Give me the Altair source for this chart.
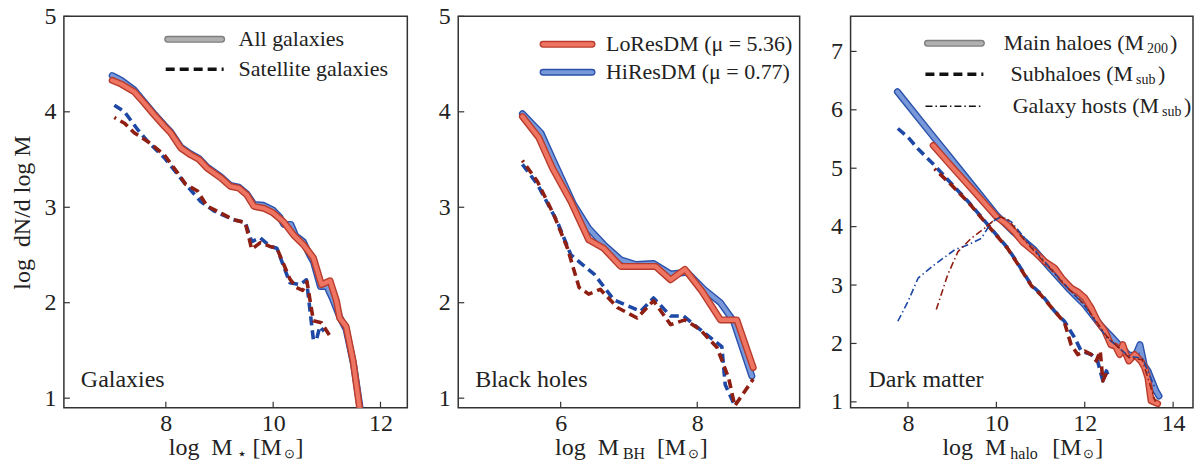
import altair as alt
import pandas as pd

FONT = "Liberation Serif"
RED_FILL, RED_EDGE = "#EF7563", "#B83B2C"
BLUE_FILL, BLUE_EDGE = "#7898DA", "#2A52AC"
RED_DASH, BLUE_DASH = "#8E1F12", "#1D48A5"
INK = "#222222"

# ---------------- Panel 1: galaxies ----------------
gal_lo_all_x = [7.0, 7.17, 7.41, 7.6, 7.78, 7.97, 8.09, 8.28, 8.46, 8.62, 8.77, 9.02, 9.2, 9.36, 9.51,
                9.64, 9.82, 10.0, 10.19, 10.38, 10.56, 10.75, 10.9, 11.06, 11.18, 11.24, 11.36, 11.49, 11.61, 11.7]
gal_lo_all_y = [4.33, 4.29, 4.21, 4.09, 3.97, 3.85, 3.78, 3.62, 3.55, 3.50, 3.41, 3.31, 3.22, 3.20, 3.13,
                3.01, 2.99, 2.94, 2.85, 2.71, 2.61, 2.47, 2.19, 2.23, 2.02, 1.84, 1.75, 1.39, 0.9, 0.5]
gal_hi_all_x = [7.0, 7.17, 7.41, 7.6, 7.78, 7.97, 8.09, 8.28, 8.46, 8.62, 8.77, 9.02, 9.2, 9.36, 9.51,
                9.64, 9.82, 10.0, 10.12, 10.2, 10.33, 10.42, 10.56, 10.68, 10.75, 10.88, 11.0, 11.1, 11.24,
                11.36, 11.5, 11.62, 11.72]
gal_hi_all_y = [4.38, 4.33, 4.23, 4.10, 3.98, 3.86, 3.79, 3.63, 3.56, 3.51, 3.42, 3.32, 3.23, 3.21, 3.14,
                3.03, 3.02, 2.97, 2.90, 2.82, 2.82, 2.70, 2.64, 2.50, 2.43, 2.17, 2.17, 2.05, 1.85,
                1.72, 1.35, 0.9, 0.5]
gal_lo_sat_x = [7.04, 7.23, 7.41, 7.66, 7.97, 8.22, 8.37, 8.59, 8.77, 9.02, 9.26, 9.48, 9.6, 9.76, 9.94,
                10.07, 10.31, 10.43, 10.55, 10.63, 10.75, 10.9, 11.06]
gal_lo_sat_y = [3.94, 3.88, 3.78, 3.69, 3.55, 3.36, 3.24, 3.17, 3.01, 2.94, 2.87, 2.84, 2.56, 2.63, 2.59,
                2.57, 2.25, 2.16, 2.13, 2.22, 1.81, 1.79, 1.65]
gal_hi_sat_x = [7.04, 7.23, 7.48, 7.66, 7.97, 8.37, 8.65, 8.9, 9.26, 9.48, 9.6, 9.76, 9.94, 10.07, 10.31,
                10.5, 10.62, 10.75, 10.81, 10.87, 10.95]
gal_hi_sat_y = [4.07, 4.00, 3.81, 3.69, 3.52, 3.24, 3.06, 2.96, 2.87, 2.84, 2.64, 2.68, 2.59, 2.57, 2.21,
                2.19, 2.24, 1.61, 1.62, 1.75, 1.70]

# ---------------- Panel 2: black holes ----------------
bh_lo_all_x = [5.44, 5.68, 5.88, 6.15, 6.41, 6.63, 6.88, 7.14, 7.39, 7.61, 7.82, 8.07, 8.34, 8.58, 8.82]
bh_lo_all_y = [3.95, 3.73, 3.41, 3.06, 2.66, 2.57, 2.38, 2.38, 2.38, 2.24, 2.35, 2.12, 1.82, 1.82, 1.32]
bh_hi_all_x = [5.44, 5.71, 5.9, 6.19, 6.41, 6.63, 6.88, 7.1, 7.36, 7.61, 7.85, 8.1, 8.34, 8.53, 8.8]
bh_hi_all_y = [3.98, 3.78, 3.48, 3.03, 2.78, 2.61, 2.45, 2.40, 2.41, 2.30, 2.32, 2.14, 2.00, 1.81, 1.23]
bh_lo_sat_x = [5.44, 5.66, 5.9, 6.1, 6.27, 6.41, 6.58, 6.83, 7.12, 7.36, 7.61, 7.82, 8.04, 8.29, 8.46,
               8.55, 8.82]
bh_lo_sat_y = [3.49, 3.27, 2.92, 2.57, 2.16, 2.09, 2.14, 1.95, 1.84, 2.02, 1.77, 1.82, 1.72, 1.53, 1.21,
               0.92, 1.20]
bh_hi_sat_x = [5.44, 5.66, 5.95, 6.15, 6.32, 6.49, 6.78, 7.17, 7.36, 7.61, 7.8, 8.04, 8.36, 8.41, 8.55]
bh_hi_sat_y = [3.45, 3.24, 2.85, 2.50, 2.40, 2.30, 2.03, 1.91, 2.05, 1.86, 1.86, 1.72, 1.54, 1.14, 0.92]

# ---------------- Panel 3: dark matter ----------------
dm_hi_main_x = [7.76, 8.5, 9.0, 9.5, 10.0, 10.4, 10.86, 11.2, 11.62, 12.0, 12.37, 12.6, 12.83, 13.0,
                13.15, 13.25, 13.35, 13.43, 13.61, 13.68]
dm_hi_main_y = [6.31, 5.61, 5.14, 4.67, 4.20, 3.90, 3.60, 3.30, 2.95, 2.66, 2.30, 2.12, 1.93, 1.80,
                1.80, 1.98, 1.62, 1.53, 1.19, 1.10]
dm_lo_main_x = [8.57, 9.0, 9.5, 10.0, 10.2, 10.41, 10.6, 10.86, 11.1, 11.32, 11.5, 11.69, 11.85, 12.0,
                12.15, 12.29, 12.45, 12.59, 12.7, 12.79, 12.86, 12.93, 13.0, 13.13, 13.27, 13.35, 13.43,
                13.5, 13.65]
dm_lo_main_y = [5.39, 5.02, 4.60, 4.17, 4.06, 3.91, 3.73, 3.57, 3.40, 3.29, 3.10, 2.95, 2.88, 2.78,
                2.60, 2.38, 2.22, 1.98, 1.95, 1.81, 1.98, 1.82, 1.70, 1.81, 1.70, 1.60, 1.41,
                1.02, 0.97]
dm_hi_sub_x = [7.77, 8.0, 8.23, 8.6, 9.0, 9.36, 9.81, 10.26, 10.5, 10.79, 11.02, 11.32, 11.54, 11.77,
               11.92, 12.15, 12.29, 12.41, 12.49, 12.55]
dm_hi_sub_y = [5.68, 5.53, 5.33, 5.05, 4.72, 4.43, 4.03, 3.63, 3.35, 3.00, 2.84, 2.55, 2.38, 2.10,
               1.87, 1.81, 1.70, 1.36, 1.53, 1.41]
dm_lo_sub_x = [8.6, 9.0, 9.36, 9.81, 10.26, 10.5, 10.79, 11.02, 11.32, 11.54, 11.69, 11.84, 12.0, 12.15,
               12.26, 12.35, 12.41, 12.49]
dm_lo_sub_y = [4.99, 4.70, 4.42, 4.02, 3.62, 3.34, 2.99, 2.82, 2.55, 2.36, 1.98, 1.81, 1.87, 1.81,
               1.70, 1.87, 1.36, 1.49]
dm_hi_host_x = [7.77, 8.0, 8.23, 8.6, 9.05, 9.36, 9.66, 9.89, 10.11, 10.34, 10.71, 11.0, 11.5, 12.0,
                12.5, 13.0, 13.3, 13.6]
dm_hi_host_y = [2.38, 2.72, 3.12, 3.35, 3.60, 3.69, 3.80, 4.08, 4.17, 4.08, 3.74, 3.48, 3.05, 2.64,
                2.10, 1.78, 1.75, 1.22]
dm_lo_host_x = [8.64, 8.9, 9.13, 9.43, 9.73, 10.04, 10.26, 10.6, 11.0, 11.5, 12.0, 12.5, 13.0, 13.3, 13.6]
dm_lo_host_y = [2.58, 3.18, 3.57, 3.80, 3.97, 4.17, 4.13, 3.80, 3.46, 3.04, 2.66, 2.12, 1.76, 1.72, 1.00]

# axes / ticks
p1_xdom, p1_ydom, p1_xticks, p1_yticks = [6.1, 12.5], [0.9, 5.0], [8, 10, 12], [1, 2, 3, 4, 5]
p2_xdom, p2_ydom, p2_xticks, p2_yticks = [4.5, 9.5], [0.9, 5.0], [6, 8], [1, 2, 3, 4, 5]
p3_xdom, p3_ydom, p3_xticks, p3_yticks = [6.7, 14.45], [0.9, 7.6], [8, 10, 12, 14], [1, 2, 3, 4, 5, 6, 7]

# text
p1_legend = ["All galaxies", "Satellite galaxies"]
p2_legend = ["LoResDM (\u03bc = 5.36)", "HiResDM (\u03bc = 0.77)"]
p3_legend_main = ["Main haloes (M", "Subhaloes (M", "Galaxy hosts (M"]
p3_legend_sub = ["200", "sub", "sub"]
panel_labels = ["Galaxies", "Black holes", "Dark matter"]
y_title = "log\u00a0\u00a0dN/d\u00a0log\u00a0M"
x_subs = ["\u22c6", "BH", "halo"]

W1, W2, W3, H = 344, 342, 343, 392
ONE = pd.DataFrame({"a": [0]})


def encs(xdom, ydom, xticks, yticks, ytitle=None):
    x = alt.X("x:Q", scale=alt.Scale(domain=xdom, nice=False, zero=False),
              axis=alt.Axis(values=xticks, ticks=False, domain=False, grid=False,
                            labelPadding=4, title=None, format="d"))
    ykw = dict(values=yticks, ticks=False, domain=False, grid=False, labelPadding=8, format="d")
    if ytitle:
        ykw.update(title=ytitle, titlePadding=9)
    else:
        ykw.update(title=None)
    y = alt.Y("y:Q", scale=alt.Scale(domain=ydom, nice=False, zero=False), axis=alt.Axis(**ykw))
    return x, y


def series(xs, ys, X, Y, **mark):
    df = pd.DataFrame({"x": xs, "y": ys})
    return alt.Chart(df).mark_line(clip=True, **mark).encode(x=X, y=Y)


def band(xs, ys, X, Y, fill, edge):
    return [series(xs, ys, X, Y, color=edge, strokeWidth=7, strokeCap="round", strokeJoin="round"),
            series(xs, ys, X, Y, color=fill, strokeWidth=4.2, strokeCap="round", strokeJoin="round")]


def dashed(xs, ys, X, Y, color, offset=0):
    return series(xs, ys, X, Y, color=color, strokeWidth=3.6, strokeDash=[9, 5],
                  strokeDashOffset=offset, strokeJoin="round")


def dashdot(xs, ys, X, Y, color):
    return series(xs, ys, X, Y, color=color, strokeWidth=1.6, strokeDash=[7, 3, 1.5, 3])


def txt(s, x, y, size=22, align="left", baseline="middle"):
    return alt.Chart(ONE).mark_text(text=s, align=align, baseline=baseline, font=FONT,
                                    fontSize=size, color=INK).encode(x=alt.value(x), y=alt.value(y))


def leg_line(x1, x2, y, **mark):
    return alt.Chart(ONE).mark_rule(**mark).encode(x=alt.value(x1), x2=alt.value(x2), y=alt.value(y))


def leg_band(x1, x2, y, fill, edge):
    return [leg_line(x1, x2, y, color=edge, strokeWidth=7, strokeCap="round"),
            leg_line(x1, x2, y, color=fill, strokeWidth=4.2, strokeCap="round")]


def ticks(X, Y, xt, yt):
    a = alt.Chart(pd.DataFrame({"x": xt})).mark_rule(color="#333", strokeWidth=1.2).encode(
        x=X, y=alt.value(H), y2=alt.value(H - 6))
    b = alt.Chart(pd.DataFrame({"y": yt})).mark_rule(color="#333", strokeWidth=1.2).encode(
        y=Y, x=alt.value(0), x2=alt.value(6))
    return [a, b]


def xtitle(anchor, sub, tail_x):
    ty = 432
    return [txt("log\u00a0\u00a0M", anchor, ty, size=24, align="right"),
            txt(sub, anchor + 4, ty + 6, size=16),
            txt("[M", tail_x, ty, size=24),
            txt("\u2299", tail_x + 31, ty + 6, size=13),
            txt("]", tail_x + 43, ty, size=24)]


# ---- panel 1
X1, Y1 = encs(p1_xdom, p1_ydom, p1_xticks, p1_yticks, y_title)
layers1 = (band(gal_hi_all_x, gal_hi_all_y, X1, Y1, BLUE_FILL, BLUE_EDGE)
           + band(gal_lo_all_x, gal_lo_all_y, X1, Y1, RED_FILL, RED_EDGE)
           + [dashed(gal_hi_sat_x, gal_hi_sat_y, X1, Y1, BLUE_DASH),
              dashed(gal_lo_sat_x, gal_lo_sat_y, X1, Y1, RED_DASH, offset=7)]
           + leg_band(104, 158, 23, "#B0B0B0", "#7E7E7E")
           + [leg_line(102, 160, 53, color="#111", strokeWidth=3.6, strokeDash=[9, 5]),
              txt(p1_legend[0], 175, 23), txt(p1_legend[1], 175, 53),
              txt(panel_labels[0], 17, 364, size=24)]
           + xtitle(169, x_subs[0], 189)
           + ticks(X1, Y1, p1_xticks, p1_yticks))
p1 = alt.layer(*layers1).properties(width=W1, height=H)

# ---- panel 2
X2, Y2 = encs(p2_xdom, p2_ydom, p2_xticks, p2_yticks)
layers2 = (band(bh_hi_all_x, bh_hi_all_y, X2, Y2, BLUE_FILL, BLUE_EDGE)
           + band(bh_lo_all_x, bh_lo_all_y, X2, Y2, RED_FILL, RED_EDGE)
           + [dashed(bh_hi_sat_x, bh_hi_sat_y, X2, Y2, BLUE_DASH),
              dashed(bh_lo_sat_x, bh_lo_sat_y, X2, Y2, RED_DASH, offset=7)]
           + leg_band(85, 134, 28, RED_FILL, RED_EDGE)
           + leg_band(85, 134, 56, BLUE_FILL, BLUE_EDGE)
           + [txt(p2_legend[0], 148, 28), txt(p2_legend[1], 148, 56),
              txt(panel_labels[1], 17, 364, size=24)]
           + xtitle(161, x_subs[1], 199)
           + ticks(X2, Y2, p2_xticks, p2_yticks))
p2 = alt.layer(*layers2).properties(width=W2, height=H)

# ---- panel 3
X3, Y3 = encs(p3_xdom, p3_ydom, p3_xticks, p3_yticks)
leg_anchor = [294, 283, 309]
leg_sub_w = [21, 20, 20]
leg_y = [27, 58, 90]
leg_text = []
for i in range(3):
    leg_text += [txt(p3_legend_main[i], leg_anchor[i], leg_y[i], align="right"),
                 txt(p3_legend_sub[i], leg_anchor[i] + 3, leg_y[i] + 6, size=14),
                 txt(")", leg_anchor[i] + 5 + leg_sub_w[i], leg_y[i])]
layers3 = (band(dm_hi_main_x, dm_hi_main_y, X3, Y3, BLUE_FILL, BLUE_EDGE)
           + band(dm_lo_main_x, dm_lo_main_y, X3, Y3, RED_FILL, RED_EDGE)
           + [dashed(dm_hi_sub_x, dm_hi_sub_y, X3, Y3, BLUE_DASH),
              dashed(dm_lo_sub_x, dm_lo_sub_y, X3, Y3, RED_DASH, offset=7),
              dashdot(dm_hi_host_x, dm_hi_host_y, X3, Y3, BLUE_DASH),
              dashdot(dm_lo_host_x, dm_lo_host_y, X3, Y3, RED_DASH)]
           + leg_band(77, 131, leg_y[0], "#B0B0B0", "#7E7E7E")
           + [leg_line(75, 133, leg_y[1], color="#111", strokeWidth=3.6, strokeDash=[9, 5]),
              leg_line(75, 133, leg_y[2], color="#111", strokeWidth=1.6, strokeDash=[7, 3, 1.5, 3])]
           + leg_text
           + [txt(panel_labels[2], 18, 364, size=24)]
           + xtitle(156, x_subs[2], 202)
           + ticks(X3, Y3, p3_xticks, p3_yticks))
p3 = alt.layer(*layers3).properties(width=W3, height=H)

chart = (alt.hconcat(p1, p2, p3, spacing=29)
         .properties(padding={"left": 10, "top": 3, "right": 0, "bottom": 0})
         .configure_view(stroke="#333", strokeWidth=1.5)
         .configure_axis(labelFont=FONT, labelFontSize=24, labelColor=INK,
                         titleFont=FONT, titleFontSize=24, titleColor=INK,
                         titleFontWeight="normal"))

chart.save("out.html", embed_options={"renderer": "svg", "actions": False})
